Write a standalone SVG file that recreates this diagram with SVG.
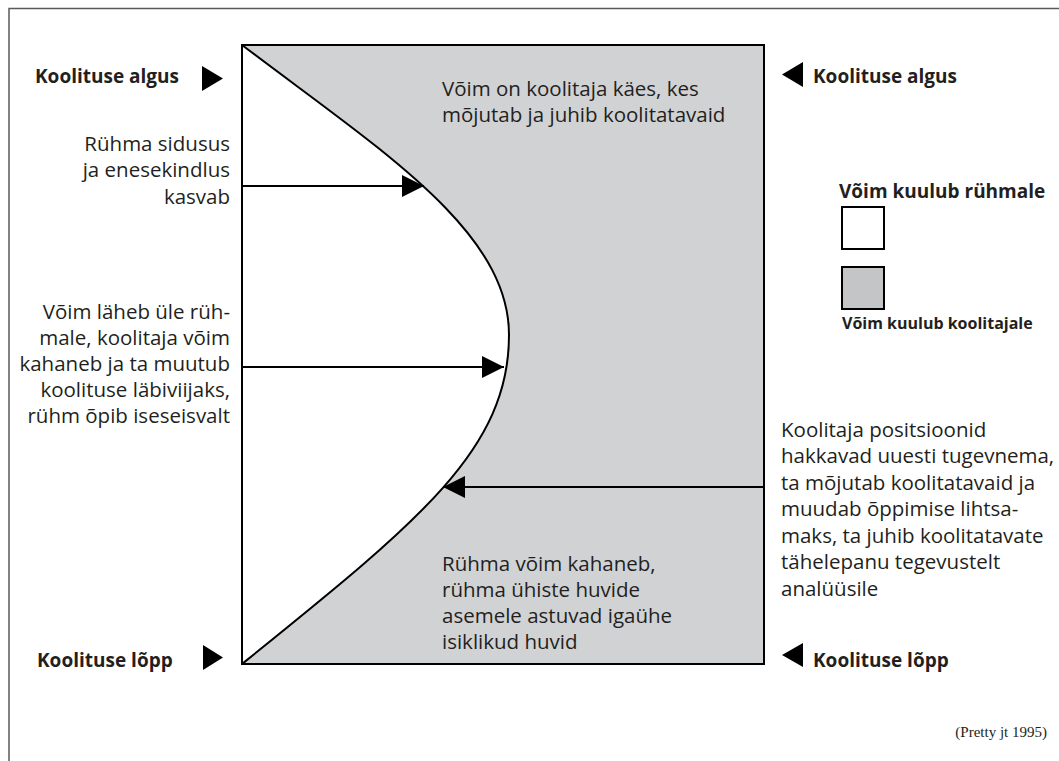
<svg xmlns="http://www.w3.org/2000/svg" width="1059" height="761" viewBox="0 0 1059 761">
  <style>
    .txt { font-family: "Open Sans", "Noto Sans", "Liberation Sans", sans-serif; font-size: 20.5px; fill: #231f20; }
    .bold { font-family: "Open Sans", "Noto Sans", "Liberation Sans", sans-serif; font-size: 19px; font-weight: bold; fill: #231f20; }
    .small { font-size: 16px; }
    .end { text-anchor: end; }
    .cite { font-family: "Liberation Serif", "Times New Roman", serif; font-size: 15px; fill: #231f20; text-anchor: end; }
    .ink { fill: #000; }
    .edge { stroke: #000; stroke-width: 2; fill: none; }
  </style>
  <defs>
    <marker id="head" markerUnits="userSpaceOnUse" markerWidth="22" markerHeight="22" refX="22" refY="11" orient="auto">
      <path d="M0,0 L22,11 L0,22 Z" fill="#000"/>
    </marker>
  </defs>

  <rect width="1059" height="761" fill="#fff"/>

  <!-- page frame (top and left rules) -->
  <path d="M9,761 L9,8.5 L1059,8.5" fill="none" stroke="#5a5a5a" stroke-width="1.5"/>

  <!-- main panel: trainer's share in grey, group's share in white -->
  <g id="panel">
    <rect x="242" y="45" width="522" height="619" fill="#d1d2d4"/>
    <path d="M242,45 C380,150 509,230 509,335 C509,450 418,522 242,664 Z" fill="#fff"/>
    <path class="edge" d="M242,45 C380,150 509,230 509,335 C509,450 418,522 242,664"/>
    <rect class="edge" x="242" y="45" width="522" height="619"/>
  </g>

  <g id="trainer-power">
    <text class="txt" x="442" y="96">Võim on koolitaja käes, kes</text>
    <text class="txt" x="442" y="122">mõjutab ja juhib koolitatavaid</text>
  </g>

  <g id="group-power-falls">
    <text class="txt" x="442" y="571">Rühma võim kahaneb,</text>
    <text class="txt" x="442" y="597">rühma ühiste huvide</text>
    <text class="txt" x="442" y="623">asemele astuvad igaühe</text>
    <text class="txt" x="442" y="649">isiklikud huvid</text>
  </g>

  <g id="start-left">
    <text class="bold" x="35" y="83">Koolituse algus</text>
    <path class="ink" d="M202,66 L223,78.5 L202,91 Z"/>
  </g>
  <g id="start-right">
    <path class="ink" d="M803,62 L782,74.5 L803,87 Z"/>
    <text class="bold" x="813" y="83">Koolituse algus</text>
  </g>
  <g id="end-left">
    <text class="bold" x="37" y="667">Koolituse lõpp</text>
    <path class="ink" d="M203,645 L223,657.5 L203,670 Z"/>
  </g>
  <g id="end-right">
    <path class="ink" d="M803,643 L782,655 L803,667 Z"/>
    <text class="bold" x="813" y="667">Koolituse lõpp</text>
  </g>

  <g id="cohesion">
    <text class="txt end" x="230" y="151">Rühma sidusus</text>
    <text class="txt end" x="230" y="177">ja enesekindlus</text>
    <text class="txt end" x="230" y="204">kasvab</text>
  </g>

  <g id="power-shift">
    <text class="txt end" x="230" y="319">Võim läheb üle rüh-</text>
    <text class="txt end" x="230" y="345">male, koolitaja võim</text>
    <text class="txt end" x="230" y="371">kahaneb ja ta muutub</text>
    <text class="txt end" x="230" y="397">koolituse läbiviijaks,</text>
    <text class="txt end" x="230" y="423">rühm õpib iseseisvalt</text>
  </g>

  <g id="trainer-returns">
    <text class="txt" x="781" y="437">Koolitaja positsioonid</text>
    <text class="txt" x="781" y="463">hakkavad uuesti tugevnema,</text>
    <text class="txt" x="781" y="490">ta mõjutab koolitatavaid ja</text>
    <text class="txt" x="781" y="516">muudab õppimise lihtsa-</text>
    <text class="txt" x="781" y="543">maks, ta juhib koolitatavate</text>
    <text class="txt" x="781" y="569">tähelepanu tegevustelt</text>
    <text class="txt" x="781" y="596">analüüsile</text>
  </g>

  <g id="legend">
    <text class="bold" x="839" y="198">Võim kuulub rühmale</text>
    <rect x="842" y="207" width="42" height="42" fill="#fff" stroke="#000" stroke-width="2"/>
    <rect x="842" y="267" width="42" height="42" fill="#c4c5c7" stroke="#000" stroke-width="2"/>
    <text class="bold small" x="842" y="329">Võim kuulub koolitajale</text>
  </g>

  <g id="source">
    <text class="cite" x="1047" y="737">(Pretty jt 1995)</text>
  </g>

  <g id="connectors">
    <line class="edge" x1="242" y1="186" x2="424" y2="186" marker-end="url(#head)"/>
    <line class="edge" x1="242" y1="367" x2="504" y2="367" marker-end="url(#head)"/>
    <line class="edge" x1="764" y1="487" x2="443" y2="487" marker-end="url(#head)"/>
  </g>
</svg>
